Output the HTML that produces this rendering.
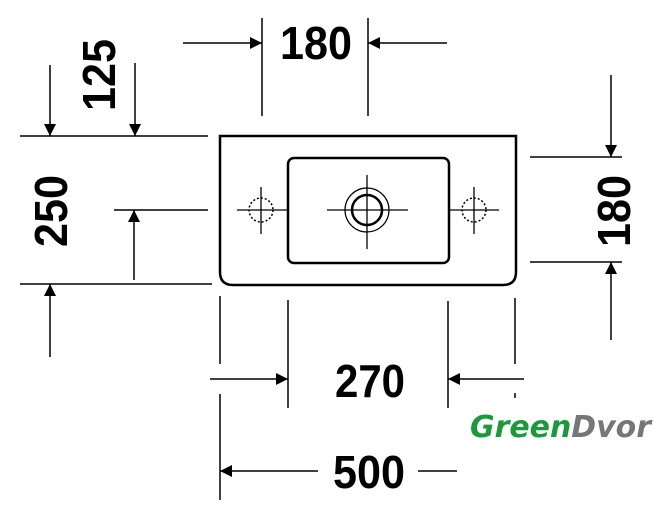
<!DOCTYPE html>
<html><head><meta charset="utf-8"><style>html,body{margin:0;padding:0;background:#fff}svg{display:block}</style></head>
<body>
<svg width="665" height="521" viewBox="0 0 665 521" xmlns="http://www.w3.org/2000/svg">
<defs>
<marker id="a" viewBox="0 0 10 10" refX="10" refY="5" markerWidth="24" markerHeight="12" markerUnits="userSpaceOnUse" orient="auto"><path d="M0,0 L10,5 L0,10 z" fill="#000"/></marker>
</defs>
<g stroke="#000" stroke-width="1.5" fill="none">
<!-- top 180 -->
<line x1="262" y1="18" x2="262" y2="116"/>
<line x1="368" y1="18" x2="368" y2="116"/>
<line x1="183" y1="43" x2="262" y2="43" marker-end="url(#a)"/>
<line x1="447" y1="43" x2="368" y2="43" marker-end="url(#a)"/>
<!-- left -->
<line x1="20" y1="136" x2="208" y2="136"/>
<line x1="114" y1="210" x2="208" y2="210"/>
<line x1="20" y1="284" x2="212" y2="284"/>
<line x1="50" y1="65" x2="50" y2="136" marker-end="url(#a)"/>
<line x1="135" y1="63" x2="135" y2="136" marker-end="url(#a)"/>
<line x1="134" y1="280" x2="134" y2="210" marker-end="url(#a)"/>
<line x1="50" y1="357" x2="50" y2="284" marker-end="url(#a)"/>
<!-- right 180 -->
<line x1="530" y1="157" x2="622" y2="157"/>
<line x1="530" y1="262" x2="622" y2="262"/>
<line x1="611" y1="75" x2="611" y2="157" marker-end="url(#a)"/>
<line x1="611" y1="340" x2="611" y2="262" marker-end="url(#a)"/>
<!-- bottom -->
<line x1="220" y1="296" x2="220" y2="364"/>
<line x1="220" y1="394" x2="220" y2="500"/>
<line x1="288" y1="300" x2="288" y2="408"/>
<line x1="448" y1="301" x2="448" y2="408"/>
<line x1="515" y1="298" x2="515" y2="364"/>
<line x1="515" y1="393" x2="515" y2="398"/>
<line x1="210" y1="379" x2="288" y2="379" marker-end="url(#a)"/>
<line x1="524" y1="379" x2="448" y2="379" marker-end="url(#a)"/>
<line x1="318" y1="471" x2="220" y2="471" marker-end="url(#a)"/>
<line x1="418" y1="471" x2="457" y2="471"/>
</g>
<!-- basin -->
<g stroke="#000" fill="none">
<path d="M220,136 L516,136 L516,272 Q516,285 503,285 L233,285 Q220,285 220,272 Z" stroke-width="2.5"/>
<rect x="288" y="158" width="161" height="105" rx="6" stroke-width="2.5"/>
<circle cx="367" cy="210" r="22" stroke-width="1.2"/>
<circle cx="367" cy="210" r="15" stroke-width="2.5"/>
<line x1="327" y1="210" x2="408" y2="210" stroke-width="1.3"/>
<line x1="367" y1="175" x2="367" y2="249" stroke-width="1.3"/>
<circle cx="261" cy="210" r="12" stroke-width="1.5" stroke-dasharray="2,2"/>
<line x1="237" y1="210" x2="288" y2="210" stroke-width="1.3"/>
<line x1="261" y1="187" x2="261" y2="234" stroke-width="1.3"/>
<circle cx="474" cy="210" r="12" stroke-width="1.5" stroke-dasharray="2,2"/>
<line x1="449" y1="210" x2="499" y2="210" stroke-width="1.3"/>
<line x1="474" y1="187" x2="474" y2="234" stroke-width="1.3"/>
</g>
<g font-family="Liberation Sans, sans-serif" font-weight="bold" font-size="46" fill="#000">
<text x="280" y="59" textLength="72" lengthAdjust="spacingAndGlyphs">180</text>
<text x="335" y="397" textLength="70" lengthAdjust="spacingAndGlyphs">270</text>
<text x="333" y="488" textLength="72" lengthAdjust="spacingAndGlyphs">500</text>
<text transform="translate(115,111) rotate(-90)" textLength="72" lengthAdjust="spacingAndGlyphs">125</text>
<text transform="translate(67,247) rotate(-90)" textLength="72" lengthAdjust="spacingAndGlyphs">250</text>
<text transform="translate(630,247) rotate(-90)" textLength="72" lengthAdjust="spacingAndGlyphs">180</text>
</g>
<text x="470" y="437" font-family="DejaVu Sans, sans-serif" font-weight="bold" font-style="italic" font-size="30" textLength="181" lengthAdjust="spacingAndGlyphs"><tspan fill="#1a9a3a">Green</tspan><tspan fill="#777">Dvor</tspan></text>
</svg>
</body></html>
